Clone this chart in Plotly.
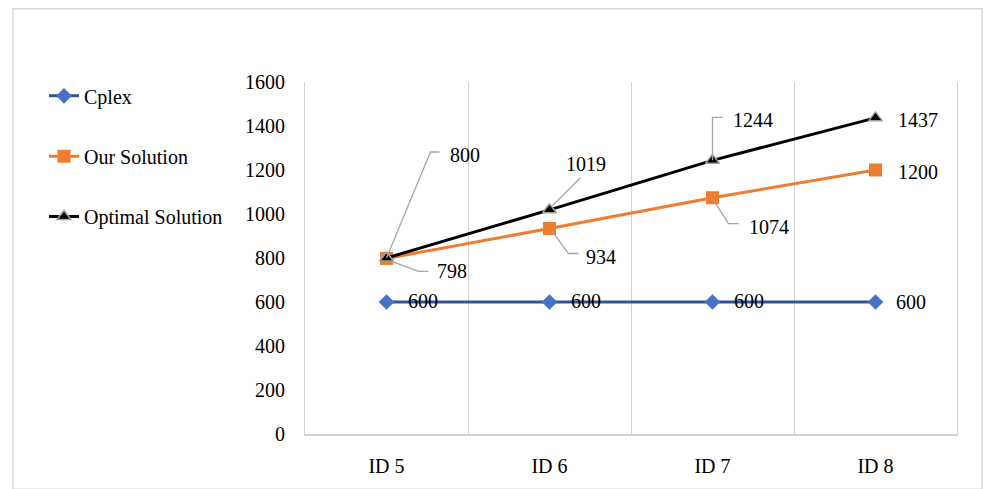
import plotly.graph_objects as go

# ---- data ----
categories = ["ID 5", "ID 6", "ID 7", "ID 8"]
cplex = [600, 600, 600, 600]
our_solution = [798, 934, 1074, 1200]
optimal_solution = [800, 1019, 1244, 1437]
y_ticks = [0, 200, 400, 600, 800, 1000, 1200, 1400, 1600]

# ---- page geometry (pixels) ----
W, H = 984, 489
L, R, T, B = 305, 27, 82, 51
PW, PH = W - L - R, H - T - B


def fx(px):
    return (px - L) / PW


def fy(py):
    return (H - B - py) / PH


FONT = "Liberation Serif, Times New Roman, serif"
FS = 20
GRID = "#D3D3D3"
LEADER = "#A6A6A6"

fig = go.Figure()

fig.add_trace(go.Scatter(
    x=categories, y=cplex, name="Cplex", mode="lines+markers",
    line=dict(color="#2F5597", width=3),
    marker=dict(symbol="diamond", size=12, color="#4472C4"),
    legend="legend",
))
fig.add_trace(go.Scatter(
    x=categories, y=our_solution, name="Our Solution", mode="lines+markers",
    line=dict(color="#ED7D31", width=3),
    marker=dict(symbol="square", size=13, color="#ED7D31"),
    legend="legend2",
))
fig.add_trace(go.Scatter(
    x=categories, y=optimal_solution, name="Optimal Solution", mode="lines+markers",
    line=dict(color="#000000", width=3),
    marker=dict(symbol="triangle-up", size=12, color="#000000",
                line=dict(color="#A0A0A0", width=1.5)),
    legend="legend3",
))

# label offsets (text left edge / vertical centre relative to the point, px)
cplex_off = [(19, -1), (19, -1), (19, -1), (18, 0)]
our_off = [(48, 13), (34, 28), (34, 29), (20, 2)]
opt_off = [(61, -103), (14, -46), (18, -40), (20, 2)]

# elbow leader lines, px relative to the point (screen y down)
our_leaders = [[(5, 3), (32, 13), (42, 13)],
               [(3, 3), (19, 25), (29, 25)],
               [(0, 1), (16, 26), (26, 26)],
               None]
opt_leaders = [[(0, 0), (44, -106), (53, -106)],
               [(3, -4), (31, -32)],
               [(0, 0), (0, -43), (10, -43)],
               None]

annotations = []
shapes = []


def add_labels(values, offsets, leaders=None):
    for i, (cat, v) in enumerate(zip(categories, values)):
        dx, dy = offsets[i]
        annotations.append(dict(
            x=cat, y=v, xref="x", yref="y", text=str(v), showarrow=False,
            xanchor="left", yanchor="middle", xshift=dx, yshift=-dy,
            font=dict(family=FONT, size=FS, color="#000000"),
        ))
        if leaders and leaders[i]:
            pts = leaders[i]
            path = "M" + " L".join(f"{px},{-py}" for px, py in pts)
            shapes.append(dict(
                type="path", xref="x", yref="y",
                xsizemode="pixel", ysizemode="pixel",
                xanchor=i, yanchor=v, path=path,
                line=dict(color=LEADER, width=1.3),
            ))


add_labels(cplex, cplex_off)
add_labels(our_solution, our_off, our_leaders)
add_labels(optimal_solution, opt_off, opt_leaders)

# outer chart border
shapes.append(dict(
    type="rect", xref="paper", yref="paper", layer="below",
    x0=fx(13), x1=fx(982), y0=fy(H + 5), y1=fy(8),
    line=dict(color="#D9D9D9", width=1.5), fillcolor="rgba(0,0,0,0)",
))

legend_common = dict(
    font=dict(family=FONT, size=FS, color="#000000"),
    bgcolor="rgba(0,0,0,0)", xanchor="left", yanchor="middle",
    itemclick=False, itemdoubleclick=False,
)

fig.update_layout(
    width=W, height=H,
    margin=dict(l=L, r=R, t=T, b=B, pad=0),
    paper_bgcolor="#FFFFFF", plot_bgcolor="#FFFFFF",
    font=dict(family=FONT, size=FS, color="#000000"),
    showlegend=True,
    legend=dict(x=fx(44), y=fy(96), **legend_common),
    legend2=dict(x=fx(44), y=fy(157), **legend_common),
    legend3=dict(x=fx(44), y=fy(218), **legend_common),
    xaxis=dict(
        type="category", range=[-0.5, 3.5], tickson="boundaries",
        showgrid=True, gridcolor=GRID, gridwidth=1,
        showline=True, linecolor=GRID, linewidth=1.5,
        ticks="", ticklabelstandoff=13,
        tickfont=dict(family=FONT, size=FS, color="#000000"),
        zeroline=False, fixedrange=True,
    ),
    yaxis=dict(
        range=[0, 1600], tickvals=y_ticks, ticktext=[str(t) for t in y_ticks],
        showgrid=False, showline=True, mirror=True, linecolor=GRID, linewidth=1,
        ticks="", ticklabelstandoff=15,
        tickfont=dict(family=FONT, size=FS, color="#000000"),
        zeroline=False, fixedrange=True,
    ),
    annotations=annotations,
    shapes=shapes,
)

fig.write_html("out.html")
